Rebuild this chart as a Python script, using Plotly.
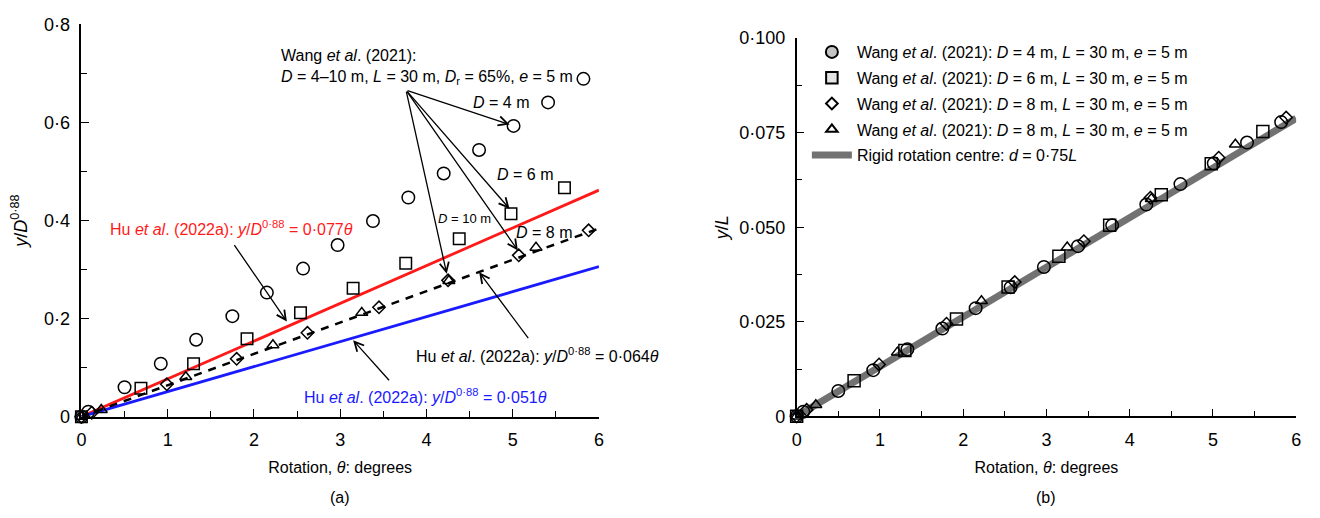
import plotly.graph_objects as go

# ---------------- data ----------------
# (a) normalised pile-head displacement y/D^0.88 against rotation
theta_d4_a = [0, 0.08, 0.50, 0.92, 1.33, 1.75, 2.15, 2.57, 2.97, 3.38, 3.79, 4.20, 4.61, 5.01, 5.41, 5.82]
ynorm_d4 = [0, 0.010, 0.060, 0.108, 0.157, 0.205, 0.253, 0.302, 0.350, 0.399, 0.447, 0.496, 0.544, 0.593, 0.641, 0.689]

theta_d6_a = [0, 0.69, 1.30, 1.92, 2.54, 3.15, 3.76, 4.38, 4.98, 5.60]
ynorm_d6 = [0, 0.058, 0.108, 0.159, 0.212, 0.262, 0.313, 0.363, 0.414, 0.467]

theta_d8_a = [0, 0.12, 0.99, 1.80, 2.62, 3.45, 4.25, 5.07, 5.88]
ynorm_d8 = [0, 0.008, 0.066, 0.118, 0.171, 0.223, 0.278, 0.329, 0.380]

theta_d8b_a = [0, 0.23, 1.21, 2.22, 3.25, 4.26, 5.27]
ynorm_d8b = [0, 0.014, 0.081, 0.146, 0.212, 0.277, 0.345]

# Hu et al. (2022a) design lines: y/D^0.88 = k * theta
hu_theta = [0, 6]
hu_k_upper = 0.077
hu_k_mid = 0.064
hu_k_lower = 0.051

# (b) y/L against rotation
theta_d4_b = [0, 0.08, 0.50, 0.92, 1.33, 1.75, 2.15, 2.57, 2.97, 3.38, 3.79, 4.20, 4.61, 5.01, 5.41, 5.82]
yl_d4 = [0, 0.0012, 0.0067, 0.0122, 0.0177, 0.0232, 0.0286, 0.0341, 0.0395, 0.0450, 0.0505, 0.0560, 0.0614, 0.0669, 0.0724, 0.0778]

theta_d6_b = [0, 0.69, 1.30, 1.92, 2.54, 3.15, 3.76, 4.38, 4.98, 5.60]
yl_d6 = [0, 0.0094, 0.0174, 0.0257, 0.0342, 0.0423, 0.0505, 0.0586, 0.0668, 0.0753]

theta_d8_b = [0, 0.12, 0.99, 1.80, 2.62, 3.45, 4.25, 5.07, 5.88]
yl_d8 = [0, 0.0017, 0.0137, 0.0245, 0.0355, 0.0463, 0.0578, 0.0684, 0.0790]

theta_d8b_b = [0, 0.23, 1.21, 2.22, 3.25, 4.26, 5.27]
yl_d8b = [0, 0.0030, 0.0169, 0.0305, 0.0447, 0.0575, 0.0719]

# rigid rotation about d = 0.75L
rigid_theta = [0, 6]
rigid_yl = [0, 0.0788]

# tick labels (middle-dot decimals)
x_ticks = [0, 1, 2, 3, 4, 5, 6]
x_ticktext = ["0", "1", "2", "3", "4", "5", "6"]
ya_ticks = [0, 0.2, 0.4, 0.6, 0.8]
ya_ticktext = ["0", "0·2", "0·4", "0·6", "0·8"]
yb_ticks = [0, 0.025, 0.050, 0.075, 0.100]
yb_ticktext = ["0", "0·025", "0·050", "0·075", "0·100"]

# ---------------- styling ----------------
FONT = "Liberation Sans, Arial, sans-serif"
BLACK = "#000000"
RED = "#ff1a1a"
BLUE = "#1a1aff"
GREY_LINE = "#727272"

fig = go.Figure()


def open_marker(symbol, size):
    return dict(symbol=symbol, size=size, color="rgba(0,0,0,0)",
                line=dict(color=BLACK, width=1.5))


# ---- panel (a) ----
hu_upper_y = [hu_k_upper * t for t in hu_theta]
hu_mid_y = [hu_k_mid * t for t in hu_theta]
hu_lower_y = [hu_k_lower * t for t in hu_theta]

fig.add_trace(go.Scatter(x=hu_theta, y=hu_upper_y, mode="lines", line=dict(color=RED, width=2.8),
                         xaxis="x", yaxis="y", showlegend=False))
fig.add_trace(go.Scatter(x=hu_theta, y=hu_lower_y, mode="lines", line=dict(color=BLUE, width=2.8),
                         xaxis="x", yaxis="y", showlegend=False))
fig.add_trace(go.Scatter(x=hu_theta, y=hu_mid_y, mode="lines",
                         line=dict(color=BLACK, width=2.5, dash="8px,7px"),
                         xaxis="x", yaxis="y", showlegend=False))

for xs, ys, sym, sz in [
    (theta_d4_a, ynorm_d4, "circle", 12.5),
    (theta_d6_a, ynorm_d6, "square", 11.5),
    (theta_d8_a, ynorm_d8, "diamond", 9.5),
    (theta_d8b_a, ynorm_d8b, "triangle-up", 10.5),
]:
    fig.add_trace(go.Scatter(x=xs, y=ys, mode="markers", marker=open_marker(sym, sz),
                             xaxis="x", yaxis="y", showlegend=False, cliponaxis=False))

# ---- panel (b) ----
fig.add_trace(go.Scatter(x=rigid_theta, y=rigid_yl, mode="lines",
                         line=dict(color=GREY_LINE, width=7),
                         xaxis="x2", yaxis="y2", showlegend=False))

for xs, ys, sym, sz in [
    (theta_d4_b, yl_d4, "circle", 12.5),
    (theta_d6_b, yl_d6, "square", 12),
    (theta_d8_b, yl_d8, "diamond", 9.5),
    (theta_d8b_b, yl_d8b, "triangle-up", 10.5),
]:
    fig.add_trace(go.Scatter(x=xs, y=ys, mode="markers", marker=open_marker(sym, sz),
                             xaxis="x2", yaxis="y2", showlegend=False, cliponaxis=False))

# legend entries
wang = "Wang <i>et al</i>. (2021): "
legend_items = [
    ("circle", 12, "#c4c4c4", wang + "<i>D</i> = 4 m, <i>L</i> = 30 m, <i>e</i> = 5 m"),
    ("square", 11.5, "#e4e4e4", wang + "<i>D</i> = 6 m, <i>L</i> = 30 m, <i>e</i> = 5 m"),
    ("diamond", 9, "#ffffff", wang + "<i>D</i> = 8 m, <i>L</i> = 30 m, <i>e</i> = 5 m"),
    ("triangle-up", 10, "#ffffff", wang + "<i>D</i> = 8 m, <i>L</i> = 30 m, <i>e</i> = 5 m"),
]
for i, (sym, sz, fill, name) in enumerate(legend_items):
    fig.add_trace(go.Scatter(x=[None], y=[None], mode="markers", name=name,
                             marker=dict(symbol=sym, size=sz, color=fill,
                                         line=dict(color=BLACK, width=2)),
                             xaxis="x2", yaxis="y2", legendgroup=f"g{i}"))
fig.add_trace(go.Scatter(x=[None], y=[None], mode="lines",
                         name="Rigid rotation centre: <i>d</i> = 0·75<i>L</i>",
                         line=dict(color=GREY_LINE, width=7),
                         xaxis="x2", yaxis="y2", legendgroup="g9"))

# ---------------- axes ----------------
TICK_FONT = dict(family=FONT, size=18, color=BLACK)
TITLE_FONT = dict(family=FONT, size=16, color=BLACK)
axis_common = dict(showline=True, linecolor=BLACK, linewidth=1.5, ticks="inside", ticklen=8,
                   tickwidth=1.3, tickcolor=BLACK, showgrid=False, zeroline=False, mirror=False,
                   tickfont=TICK_FONT, ticklabelstandoff=6)

fig.update_layout(
    xaxis=dict(domain=[77 / 1320, 598.5 / 1320], range=[0, 6], anchor="y",
               tickmode="array", tickvals=x_ticks, ticktext=x_ticktext,
               minor=dict(dtick=0.5, tick0=0, ticks="inside", ticklen=6, tickwidth=1.3, tickcolor=BLACK),
               title=dict(text="Rotation, <i>θ</i>: degrees", font=TITLE_FONT, standoff=13),
               **axis_common),
    yaxis=dict(domain=[1 - 423 / 518, 1 - 15 / 518], range=[0, 0.8], anchor="x",
               tickmode="array", tickvals=ya_ticks, ticktext=ya_ticktext,
               minor=dict(dtick=0.1, tick0=0, ticks="inside", ticklen=6, tickwidth=1.3, tickcolor=BLACK),
               title=dict(text="<i>y</i>/<i>D</i><sup>0·88</sup>", font=dict(family=FONT, size=18, color=BLACK),
                          standoff=12),
               **axis_common),
    xaxis2=dict(domain=[797.7 / 1320, 1301 / 1320], range=[0, 6], anchor="y2",
                tickmode="array", tickvals=x_ticks, ticktext=x_ticktext,
                minor=dict(dtick=0.5, tick0=0, ticks="inside", ticklen=6, tickwidth=1.3, tickcolor=BLACK),
                title=dict(text="Rotation, <i>θ</i>: degrees", font=TITLE_FONT, standoff=13),
                **axis_common),
    yaxis2=dict(domain=[1 - 422.6 / 518, 1 - 29.3 / 518], range=[0, 0.1], anchor="x2",
                tickmode="array", tickvals=yb_ticks, ticktext=yb_ticktext,
                minor=dict(dtick=0.0125, tick0=0, ticks="inside", ticklen=6, tickwidth=1.3, tickcolor=BLACK),
                title=dict(text="<i>y</i>/<i>L</i>", font=dict(family=FONT, size=18, color=BLACK),
                           standoff=6),
                **axis_common),
)

# ---------------- annotations ----------------
ann = []


def label(x, y, text, color=BLACK, size=16, xanchor="left", yanchor="middle", ref=("x", "y")):
    ann.append(dict(x=x, y=y, xref=ref[0], yref=ref[1], text=text, showarrow=False,
                    xanchor=xanchor, yanchor=yanchor, align="left",
                    font=dict(family=FONT, size=size, color=color)))


def arrow(x_head, y_head, x_tail, y_tail):
    ann.append(dict(x=x_head, y=y_head, ax=x_tail, ay=y_tail, xref="x", yref="y",
                    axref="x", ayref="y", text="", showarrow=True, arrowhead=5,
                    arrowsize=1.4, arrowwidth=1.3, arrowcolor=BLACK))


label(2.29, 0.7127, "Wang <i>et al</i>. (2021):<br><i>D</i> = 4–10 m, <i>L</i> = 30 m, "
      "<i>D</i><sub>r</sub> = 65%, <i>e</i> = 5 m")
tail = (3.763, 0.666)
arrow(4.963, 0.596, *tail)
arrow(4.963, 0.424, *tail)
arrow(5.060, 0.339, *tail)
arrow(4.235, 0.2916, *tail)

label(4.868, 0.641, "<i>D</i> = 4 m", xanchor="center")
label(5.138, 0.494, "<i>D</i> = 6 m", xanchor="center")
label(4.442, 0.404, "<i>D</i> = 10 m", size=13, xanchor="center")
label(5.357, 0.375, "<i>D</i> = 8 m", xanchor="center")

hu = "Hu <i>et al</i>. (2022a): <i>y</i>/<i>D</i><sup>0·88</sup> = "
label(0.311, 0.385, hu + "0·077<i>θ</i>", color=RED)
arrow(2.382, 0.194, 1.761, 0.353)
label(3.858, 0.125, hu + "0·064<i>θ</i>")
arrow(4.611, 0.2947, 5.193, 0.157)
label(5.425, 0.0418, hu + "0·051<i>θ</i>", color=BLUE, xanchor="right")
arrow(3.150, 0.156, 3.582, 0.0712)

label(338 / 1320, 1 - 507 / 518, "(a)", xanchor="center", ref=("paper", "paper"))
label(1049 / 1320, 1 - 507 / 518, "(b)", xanchor="center", ref=("paper", "paper"))

fig.update_layout(
    annotations=ann,
    width=1320, height=518,
    margin=dict(l=0, r=0, t=0, b=0),
    paper_bgcolor="white", plot_bgcolor="white",
    font=dict(family=FONT, size=16, color=BLACK),
    showlegend=True,
    legend=dict(x=808 / 1320, y=1 - 26 / 518, xanchor="left", yanchor="top",
                bgcolor="rgba(0,0,0,0)", font=dict(family=FONT, size=16, color=BLACK),
                itemwidth=40, traceorder="grouped", tracegroupgap=2),
)

fig.write_html("out.html")
